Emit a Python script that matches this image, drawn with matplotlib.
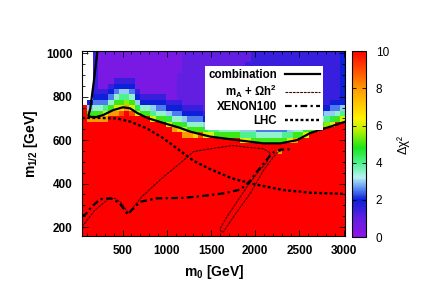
import numpy as np
import matplotlib
matplotlib.use("Agg")
import matplotlib.pyplot as plt
from matplotlib.colors import LinearSegmentedColormap

plt.rcParams['font.family'] = ['Liberation Sans', 'DejaVu Sans']
plt.rcParams['mathtext.fontset'] = 'custom'
plt.rcParams['mathtext.rm'] = 'Liberation Sans:bold'
plt.rcParams['mathtext.it'] = 'Liberation Sans:bold'
plt.rcParams['mathtext.bf'] = 'Liberation Sans:bold'
plt.rcParams['mathtext.default'] = 'bf'

# --- scan grid: Delta chi^2 per cell, one string per m0 column (bottom -> top)
# char code: index in LEVELS / 2  ('K' = 10), '.' = no point
LEVELS = "0123456789ABCDEFGHIJK"
m0_edges = np.linspace(40, 3020, 51)
m12_edges = np.linspace(160, 1010, 35)
dchi2_cols = [
    "K"*24 + "."*10,
    "K"*21 + "GA64" + "."*9,
    "K"*21 + "GA754" + "3"*8,
    "K"*21 + "GA7543" + "1"*7,
    "K"*21 + "GC8543" + "1"*7,
    "K"*22 + "GA7543" + "1"*6,
    "K"*22 + "GCA7543" + "1"*5,
    "K"*22 + "IEA8643" + "1"*5,
    "K"*23 + "GB8643" + "1"*5,
    "K"*22 + "ICA7543" + "1"*5,
    "K"*22 + "C9643" + "1"*7,
    "K"*22 + "A743" + "1"*8,
    "K"*22 + "A743" + "1"*8,
    "K"*21 + "C8643" + "1"*8,
    "K"*21 + "A7543" + "1"*8,
    "K"*21 + "A7543" + "1"*8,
    "K"*20 + "C9643" + "1"*9,
    "K"*19 + "GA7543" + "1"*9,
    "K"*19 + "EA7543" + "2"*5 + "1"*4,
    "K"*18 + "GC9643" + "2"*10,
    "K"*18 + "GA7543" + "2"*10,
    "K"*18 + "EA7543" + "2"*10,
    "K"*18 + "IA7543" + "2"*10,
    "K"*18 + "C9643" + "2"*11,
    "K"*18 + "C8643" + "2"*11,
    "K"*18 + "A8543" + "2"*11,
    "K"*18 + "A7543" + "2"*11,
    "K"*18 + "A7543" + "2"*11,
    "K"*18 + "A7543" + "2"*11,
    "K"*18 + "A7543" + "2"*11,
    "K"*17 + "C8643" + "3"*8 + "2"*4,
    "K"*17 + "C8643" + "3"*10 + "2"*2,
    "K"*17 + "A864" + "3"*13,
    "K"*17 + "A754" + "3"*13,
    "K"*17 + "A754" + "3"*13,
    "K"*17 + "A754" + "3"*13,
    "K"*17 + "A754" + "3"*13,
    "K"*15 + "GK" + "A754" + "3"*13,
    "K"*17 + "A854" + "3"*13,
    "K"*17 + "C864" + "3"*13,
    "K"*17 + "GA754" + "3"*12,
    "K"*18 + "A754" + "3"*12,
    "K"*18 + "C964" + "3"*12,
    "K"*19 + "A754" + "3"*11,
    "K"*19 + "C864" + "3"*11,
    "K"*20 + "A754" + "3"*10,
    "K"*20 + "B864" + "3"*10,
    "K"*20 + "C9654" + "3"*9,
    "K"*21 + "A754" + "3"*9,
    "K"*21 + "C864" + "4"*9,
]

# --- contours
comb_m0 = [215, 174, 134, 119, 112, 139, 199, 278, 392, 505, 584, 664, 777, 958,
           1150, 1264, 1491, 1793, 2091, 2284, 2474, 2624, 2850, 3020]
comb_m12 = [1010, 870, 745, 722, 712, 707, 706, 715, 738, 751, 746, 725, 702, 679,
            656, 639, 616, 600, 585, 585, 600, 633, 662, 685]

oh2_m0 = [40, 187, 338, 414, 490, 564, 716, 943, 1169, 1301, 1490, 1751, 1944, 2091,
          2171, 2133, 2020, 1906, 1793, 1680, 1604, 1612, 1641, 1754, 1944, 2095,
          2208, 2265, 2318]
oh2_m12 = [201, 278, 329, 332, 309, 263, 339, 424, 500, 547, 560, 575, 565, 560,
           541, 500, 447, 385, 316, 247, 194, 178, 178, 247, 355, 462,
           524, 547, 554]

xenon_m0 = [40, 80, 149, 244, 368, 467, 557, 596, 698, 886, 1188, 1453, 1641, 1831,
            1927, 2020, 2171, 2227, 2285, 2424]
xenon_m12 = [250, 258, 293, 328, 332, 309, 258, 275, 316, 332, 334, 345, 355, 372,
             405, 455, 530, 550, 556, 558]

lhc_m0 = [40, 244, 433, 584, 773, 962, 1113, 1301, 1480, 1729, 1944, 2318, 2623, 3020]
lhc_m12 = [702, 702, 700, 685, 654, 608, 562, 505, 468, 425, 401, 370, 358, 352]

grid = np.array([[LEVELS.index(ch) / 2 if ch != '.' else np.nan for ch in col]
                 for col in dchi2_cols]).T

cmap = LinearSegmentedColormap.from_list("dchi2", [
    (0.00, (0.56, 0.08, 0.90)),
    (0.10, (0.38, 0.12, 0.88)),
    (0.20, (0.05, 0.12, 0.85)),
    (0.26, (0.35, 0.55, 0.95)),
    (0.32, (0.72, 0.95, 0.95)),
    (0.40, (0.30, 0.95, 0.55)),
    (0.48, (0.10, 0.90, 0.10)),
    (0.58, (0.75, 0.95, 0.00)),
    (0.64, (1.00, 0.95, 0.00)),
    (0.80, (1.00, 0.60, 0.00)),
    (0.90, (1.00, 0.30, 0.00)),
    (1.00, (1.00, 0.00, 0.00)),
])

fig = plt.figure(figsize=(4.27, 2.99), dpi=100)
ax = fig.add_axes([0.192, 0.2117, 0.617, 0.6177])
cax = fig.add_axes([0.824, 0.207, 0.033, 0.622])

mesh = ax.pcolormesh(m0_edges, m12_edges, grid, cmap=cmap, vmin=0, vmax=10,
                     shading='flat', rasterized=True)

ax.plot(comb_m0, comb_m12, color='black', lw=1.6, label='combination', zorder=5)
ax.plot(oh2_m0, oh2_m12, color='#3a0a0a', lw=0.8, ls=(0, (2.5, 0.8)),
        label=r'm$_A$ + Ωh$^2$', zorder=4)
ax.plot(xenon_m0, xenon_m12, color='black', lw=1.6, ls=(0, (3, 1.5, 1, 1.5)),
        label='XENON100', zorder=4)
ax.plot(lhc_m0, lhc_m12, color='black', lw=1.7, ls=(0, (1.2, 1.0)),
        label='LHC', zorder=4)

ax.set_xlim(40, 3020)
ax.set_ylim(160, 1010)
ax.set_xticks([500, 1000, 1500, 2000, 2500, 3000])
ax.set_yticks([200, 400, 600, 800, 1000])
ax.set_xticks(np.arange(100, 3020, 100), minor=True)
ax.set_yticks(np.arange(200, 1010, 50), minor=True)
ax.tick_params(which='both', direction='in', top=True, right=True, width=0.6)
ax.tick_params(which='major', length=4, labelsize=8.5, pad=7)
ax.tick_params(which='minor', length=2)
for lab in ax.get_xticklabels() + ax.get_yticklabels():
    lab.set_fontweight('bold')

ax.set_xlabel(r'm$_0$ [GeV]', fontsize=10, fontweight='bold', labelpad=4)
ax.set_ylabel(r'm$_{1/2}$ [GeV]', fontsize=10, fontweight='bold', labelpad=4)

leg = ax.legend(loc='upper right', bbox_to_anchor=(0.915, 0.92), markerfirst=False,
                frameon=True, fancybox=False, framealpha=1, edgecolor='none',
                facecolor='white', borderaxespad=0, borderpad=0.3,
                handlelength=3.0, handletextpad=0.7, labelspacing=0.12,
                prop={'weight': 'bold', 'size': 8.3})
leg.set_zorder(10)

cb = fig.colorbar(mesh, cax=cax)
cb.set_ticks([0, 2, 4, 6, 8, 10])
cax.tick_params(direction='in', length=3, width=0.6, left=True, right=True,
                labelsize=8.5, pad=7)
cb.outline.set_linewidth(0.8)
cb.set_label('Δχ²', fontsize=9, labelpad=6)

fig.savefig("out.png", dpi=100)
